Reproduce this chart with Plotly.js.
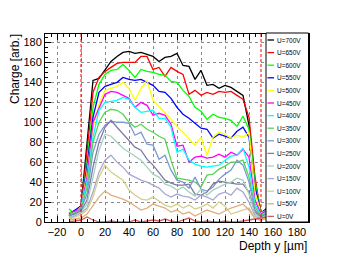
<!DOCTYPE html>
<html>
<head>
<meta charset="utf-8">
<script src="https://cdn.plot.ly/plotly-3.0.1.min.js"></script>
<style>html,body{margin:0;padding:0;background:#fff;}#chart{width:354px;height:256px;}</style>
</head>
<body>
<div id="chart"></div>
<script>
const depth = [-10,-5,0,5,10,15,20,25,30,35,40,45,50,55,60,65,70,75,80,85,90,95,100,105,110,115,120,125,130,135,140,145,150,155];
const u700 = [6,10,16,80,142,144,153,161,166,170,171,169,170,168,166,161,165,166,169,157,156,143,152,137,138,134,137,135,131,127,97,40,8,12];
const u650 = [7,11,15,70,130,145,151,155,159,160,160,160,166,166,153,155,146,155,151,148,128,132,127,130,128,131,130,131,127,123,105,45,8,13];
const u600 = [13,8,14,60,115,138,148,152,153,158,152,145,153,151,150,148,147,141,140,132,126,115,111,103,108,105,104,102,96,106,93,40,10,12];
const u550 = [8,12,16,55,105,130,136,138,140,145,143,142,143,140,137,131,130,124,115,108,104,99,94,93,84,88,86,84,91,95,85,35,9,14];
const u500 = [7,10,15,50,95,118,132,134,136,140,134,122,134,142,122,116,109,102,96,90,84,77,85,67,85,90,88,84,87,85,90,30,9,12];
const u450 = [9,11,14,45,100,115,128,131,130,127,124,115,120,117,107,109,107,98,76,77,60,65,66,64,65,68,65,70,67,73,65,22,8,12];
const u400 = [6,9,14,40,85,112,120,121,122,125,123,115,110,111,112,104,104,95,70,73,62,58,56,55,56,57,62,66,67,74,55,18,7,10];
const u350 = [10,8,12,35,80,100,110,113,112,108,100,95,98,93,90,86,83,62,44,43,42,40,35,47,48,53,56,60,60,62,45,15,6,10];
const u300 = [7,9,13,28,70,88,97,101,100,100,99,87,90,78,77,63,67,52,42,40,34,45,33,31,35,43,48,52,62,57,40,12,5,9];
const u250 = [6,8,11,22,55,80,95,102,95,88,81,75,72,63,57,50,42,39,37,37,38,28,27,30,38,41,40,39,38,38,30,10,5,8];
const u200 = [5,7,10,18,45,72,88,86,80,74,70,66,62,55,48,45,38,36,32,35,30,26,33,27,32,35,38,40,44,42,28,8,4,7];
const u150 = [4,6,9,14,30,50,62,67,60,55,48,45,42,40,37,34,28,25,28,26,25,22,27,25,22,28,30,27,34,30,20,6,3,6];
const u100 = [3,5,7,12,25,45,57,50,46,42,32,27,23,22,25,21,17,15,18,14,17,13,15,18,14,20,16,8,10,12,14,4,2,5];
const u50 = [2,3,4,8,16,25,31,27,25,23,20,16,12,14,18,16,14,10,12,8,10,6,9,12,10,8,11,14,16,18,12,3,2,4];
const u0 = [0,1,2,5,2,0,0,1,0,0,0,2,0,1,2,1,3,1,0,2,4,1,0,1,0,0,1,0,0,1,2,3,4,5];

const seriesLabels = ["U=700V","U=650V","U=600V","U=550V","U=500V","U=450V","U=400V","U=350V","U=300V","U=250V","U=200V","U=150V","U=100V","U=50V","U=0V"];
const seriesValues = [u700,u650,u600,u550,u500,u450,u400,u350,u300,u250,u200,u150,u100,u50,u0];
const seriesColors = ["#000000","#ff0000","#00ff00","#0000ff","#ffff00","#ff00ff","#00ffff","#59d454","#7d99d1","#7c7ca6","#a6d0bf","#a8a8d4","#d4cf87","#e0ae7c","#cf5e61"];
const boundaries = [0, 150];

const FONT = "Liberation Sans, Arial, Helvetica, sans-serif";

const traces = seriesValues.map((v, i) => ({
  type: "scatter", mode: "lines", x: depth, y: v, name: seriesLabels[i],
  line: {color: seriesColors[i], width: 1.3}, showlegend: false, hoverinfo: "skip"
}));

// plot area in px: x 45..309, y 34..222
const L = 45, R = 309, T = 34, B = 222;
const px2x = p => (p - L) / (R - L);
const px2y = p => (B - p) / (B - T);

const shapes = [];
boundaries.forEach(b => shapes.push({
  type: "line", xref: "x", yref: "paper", x0: b, x1: b, y0: 0, y1: 1,
  line: {color: "#ff0000", width: 1, dash: "3px,2px"}, layer: "above"
}));
// legend box
shapes.push({type: "rect", xref: "paper", yref: "paper",
  x0: px2x(266), x1: px2x(308.5), y0: 0, y1: px2y(33),
  fillcolor: "#ffffff", line: {color: "#000000", width: 1}, layer: "above"});
const annotations = [];
seriesLabels.forEach((lab, i) => {
  const yp = 40 + 12.6 * i;
  shapes.push({type: "line", xref: "paper", yref: "paper",
    x0: px2x(267.5), x1: px2x(274), y0: px2y(yp), y1: px2y(yp),
    line: {color: seriesColors[i], width: 1.3}, layer: "above"});
  annotations.push({xref: "paper", yref: "paper", x: px2x(275), y: px2y(yp),
    xanchor: "left", yanchor: "middle", text: lab, showarrow: false,
    font: {family: FONT, size: 6.5, color: "#000"}});
});
annotations.push({xref: "paper", yref: "paper", x: px2x(15.5), y: px2y(32.5),
  xanchor: "center", yanchor: "top", textangle: -90, text: "Charge [arb.]",
  showarrow: false, font: {family: FONT, size: 12, color: "#000"}});
annotations.push({xref: "paper", yref: "paper", x: px2x(309), y: px2y(245.5),
  xanchor: "right", yanchor: "middle", text: "Depth y [µm]",
  showarrow: false, font: {family: FONT, size: 12, color: "#000"}});

const axisCommon = {
  showline: true, linecolor: "#000", linewidth: 1, mirror: "ticks",
  ticks: "inside", ticklen: 6, tickcolor: "#000", tickwidth: 1,
  showgrid: true, gridcolor: "#8a8a8a", griddash: "dot", gridwidth: 1,
  zeroline: false, tickfont: {family: FONT, size: 11, color: "#000"},
  minor: {ticks: "inside", ticklen: 3, tickcolor: "#000", dtick: 5, showgrid: false}
};

const layout = {
  width: 354, height: 256,
  margin: {l: L, r: 354 - R, t: T, b: 256 - B, pad: 0},
  paper_bgcolor: "#fff", plot_bgcolor: "#fff",
  showlegend: false,
  xaxis: Object.assign({}, axisCommon, {range: [-30, 190], dtick: 20, tick0: 0, ticklabelstandoff: 0}),
  yaxis: Object.assign({}, axisCommon, {range: [0, 188.5], dtick: 20, tick0: 0}),
  shapes: shapes, annotations: annotations
};

Plotly.newPlot("chart", traces, layout, {staticPlot: true, displayModeBar: false});
</script>
</body>
</html>
